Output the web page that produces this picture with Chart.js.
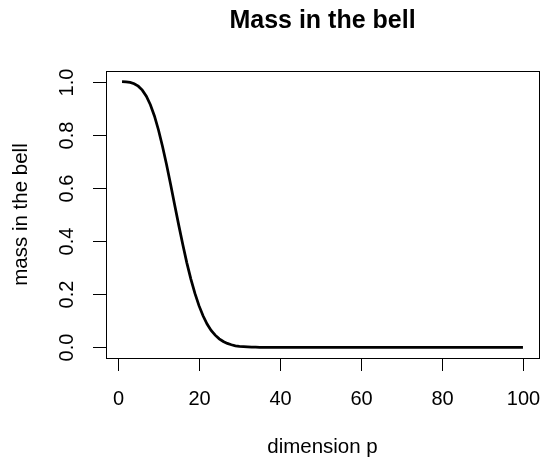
<!DOCTYPE html>
<html>
<head>
<meta charset="utf-8">
<script src="https://cdn.jsdelivr.net/npm/chart.js@4/dist/chart.umd.min.js"></script>
<style>
html,body{margin:0;padding:0;background:#fff;}
#wrap{width:543px;height:458px;position:relative;}
</style>
</head>
<body>
<div id="wrap"><canvas id="c" width="543" height="458"></canvas></div>
<script>
const dims = [1,2,3,4,5,6,7,8,9,10,11,12,13,14,15,16,17,18,19,20,
21,22,23,24,25,26,27,28,29,30,31,32,33,34,35,36,37,38,39,40,
41,42,43,44,45,46,47,48,49,50,51,52,53,54,55,56,57,58,59,60,
61,62,63,64,65,66,67,68,69,70,71,72,73,74,75,76,77,78,79,80,
81,82,83,84,85,86,87,88,89,90,91,92,93,94,95,96,97,98,99,100];
const mass = [1.000,0.999,0.997,0.992,0.983,0.968,0.945,0.913,0.871,0.818,
0.756,0.687,0.613,0.536,0.460,0.387,0.318,0.257,0.203,0.157,
0.119,0.088,0.064,0.046,0.032,0.022,0.015,0.010,0.006,0.004,
0.003,0.002,0.001,0.001,0,0,0,0,0,0,
0,0,0,0,0,0,0,0,0,0,
0,0,0,0,0,0,0,0,0,0,
0,0,0,0,0,0,0,0,0,0,
0,0,0,0,0,0,0,0,0,0,
0,0,0,0,0,0,0,0,0,0,
0,0,0,0,0,0,0,0,0,0];
const xTicks = [0,20,40,60,80,100];
const yTicks = [0,0.2,0.4,0.6,0.8,1.0];
const yTickLabels = ["0.0","0.2","0.4","0.6","0.8","1.0"];
const titleText = "Mass in the bell";
const xTitle = "dimension p";
const yTitle = "mass in the bell";

const FONT = "'Liberation Sans', Arial, Helvetica, sans-serif";

const axesPlugin = {
  id: 'rAxes',
  afterDraw(chart) {
    const ctx = chart.ctx;
    const a = chart.chartArea;
    const xs = chart.scales.x, ys = chart.scales.y;
    ctx.save();
    ctx.strokeStyle = '#000';
    ctx.fillStyle = '#000';
    ctx.lineWidth = 1;
    // box
    ctx.strokeRect(Math.round(a.left)+0.5, Math.round(a.top)+0.5,
                   Math.round(a.right-a.left), Math.round(a.bottom-a.top));
    // x ticks
    ctx.font = "20px " + FONT;
    ctx.textAlign = 'center';
    ctx.textBaseline = 'alphabetic';
    xTicks.forEach(v => {
      const px = Math.round(xs.getPixelForValue(v)) + 0.5;
      ctx.beginPath();
      ctx.moveTo(px, a.bottom);
      ctx.lineTo(px, a.bottom + 13);
      ctx.stroke();
      ctx.fillText(String(v), px, a.bottom + 47);
    });
    // y ticks
    yTicks.forEach((v, i) => {
      const py = Math.round(ys.getPixelForValue(v)) + 0.5;
      ctx.beginPath();
      ctx.moveTo(a.left - 13, py);
      ctx.lineTo(a.left, py);
      ctx.stroke();
      ctx.save();
      ctx.translate(a.left - 33, py);
      ctx.rotate(-Math.PI/2);
      ctx.fillText(yTickLabels[i], 0, 0);
      ctx.restore();
    });
    const cx = (a.left + a.right) / 2;
    const cy = (a.top + a.bottom) / 2;
    // title
    ctx.font = "bold 25px " + FONT;
    ctx.fillText(titleText, cx, 28);
    // axis titles
    ctx.font = "20.5px " + FONT;
    ctx.fillText(xTitle, cx, 453);
    ctx.save();
    ctx.translate(27, cy);
    ctx.rotate(-Math.PI/2);
    ctx.fillText(yTitle, 0, 0);
    ctx.restore();
    ctx.restore();
  }
};

new Chart(document.getElementById('c'), {
  type: 'line',
  data: {
    datasets: [{
      data: dims.map((d, i) => ({x: d, y: mass[i]})),
      borderColor: '#000',
      borderWidth: 2.75,
      pointRadius: 0,
      tension: 0,
      fill: false
    }]
  },
  options: {
    responsive: false,
    animation: false,
    devicePixelRatio: 1,
    layout: { padding: { left: 106, right: 4, top: 71, bottom: 100 } },
    plugins: { legend: { display: false }, title: { display: false }, tooltip: { enabled: false } },
    scales: {
      x: { type: 'linear', min: -2.96, max: 103.96, display: false },
      y: { type: 'linear', min: -0.04, max: 1.04, display: false }
    }
  },
  plugins: [axesPlugin]
});
</script>
</body>
</html>
